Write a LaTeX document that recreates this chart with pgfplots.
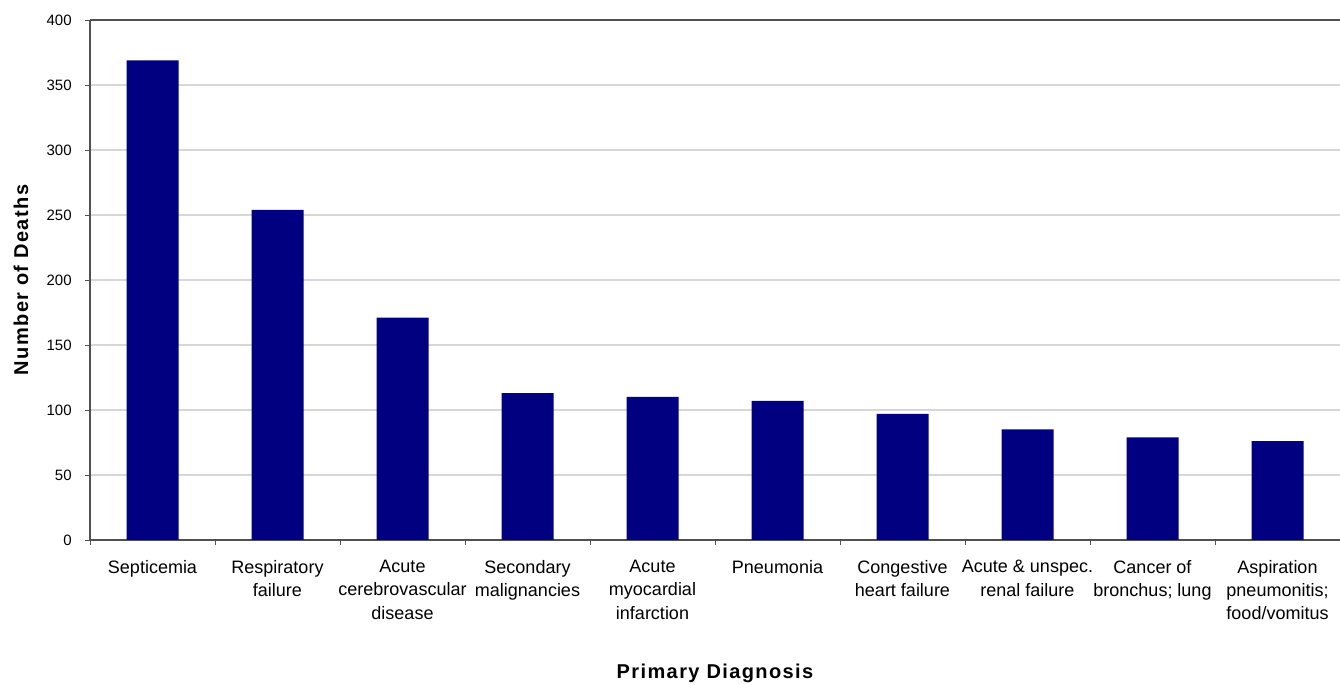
\documentclass[border=0pt]{standalone}
\usepackage{fontspec}
\setmainfont{Liberation Sans}
\usepackage{pgfplots}
\pgfplotsset{compat=1.18}
\usetikzlibrary{calc}

\definecolor{barnavy}{RGB}{0,0,128}
\definecolor{axisgray}{RGB}{80,80,80}
\definecolor{gridgray}{RGB}{215,215,215}

\newcommand{\titlefont}{\bfseries\fontsize{10}{12}\selectfont\addfontfeatures{LetterSpace=7}}

\begin{document}
\begin{tikzpicture}
\begin{axis}[
  scale only axis,
  width=625pt, height=260pt,
  xmin=-0.5, xmax=9.5, ymin=0, ymax=400,
  axis x line*=bottom, axis y line*=left,
  axis line style={axisgray, line width=0.8pt},
  ytick={0,50,...,400},
  xtick={0,...,9},
  xticklabels={Septicemia,{Respiratory\\failure},{Acute\\cerebrovascular\\disease},
    {Secondary\\malignancies},{Acute\\myocardial\\infarction},Pneumonia,
    {Congestive\\heart failure},{Acute \& unspec.\\renal failure},
    {Cancer of\\bronchus; lung},{Aspiration\\pneumonitis;\\food/vomitus}},
  minor xtick={-0.5,0.5,...,9.5},
  major x tick style={draw=none},
  minor x tick style={axisgray, thin},
  major y tick style={axisgray, thin},
  tick align=outside,
  major tick length=2.5pt, minor tick length=2.5pt,
  ymajorgrids, major grid style={gridgray, line width=0.6pt},
  /pgf/number format/assume math mode=true,
  xticklabel style={font=\fontsize{9}{11.6}\selectfont, align=center,
    anchor=north, inner sep=0pt, yshift=-7.5pt},
  yticklabel style={font=\fontsize{7.5}{9}\selectfont, anchor=east,
    inner sep=0pt, xshift=-6.5pt},
  xlabel={Primary Diagnosis},
  ylabel={Number of Deaths},
  every axis x label/.style={at={(axis description cs:0.5,0)}, anchor=base,
    yshift=-69.5pt, font=\titlefont},
  every axis y label/.style={at={(axis description cs:0,0.5)}, xshift=-34.5pt,
    rotate=90, anchor=center, font=\titlefont},
  ybar, bar width=26pt,
  clip=false,
]
\addplot[fill=barnavy, draw=none] coordinates {
  (0,369) (1,254) (2,171) (3,113) (4,110)
  (5,107) (6,97) (7,85) (8,79) (9,76)};
\coordinate (o) at (rel axis cs:0,0);
\coordinate (t) at (rel axis cs:1,1);
\draw[axisgray, line width=0.8pt] (rel axis cs:0,1) -- (rel axis cs:1,1);
\end{axis}
\pgfresetboundingbox
\path ($(o)+(-45pt,-72.5pt)$) rectangle ($(t)+(0pt,10pt)$);
\end{tikzpicture}
\end{document}
